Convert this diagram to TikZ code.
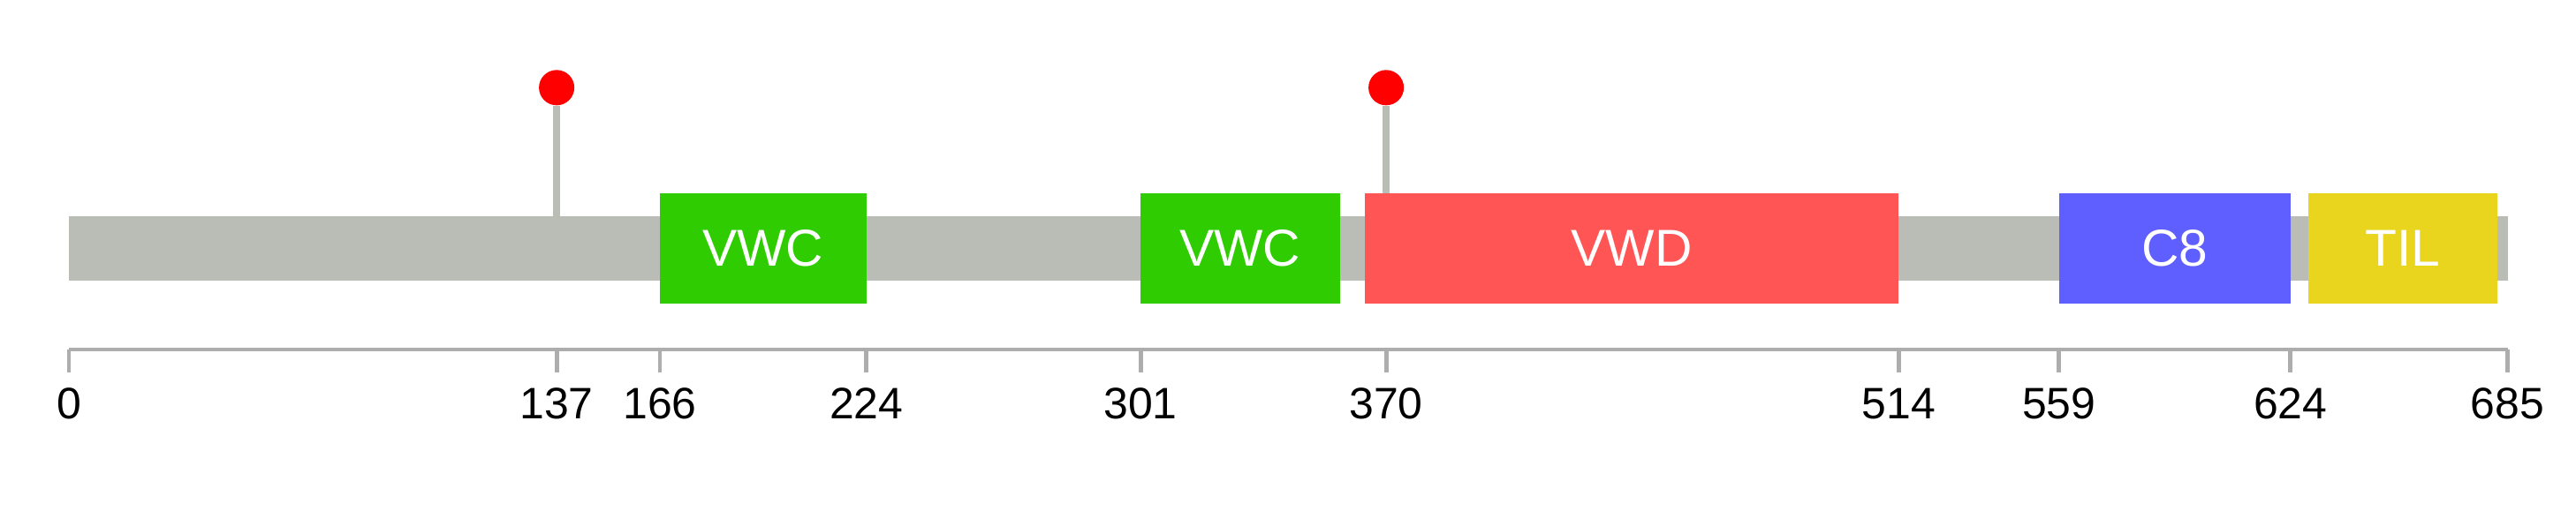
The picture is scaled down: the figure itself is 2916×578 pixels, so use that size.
\documentclass[tikz,border=0pt]{standalone}
\usepackage{fontspec}
\setmainfont{Liberation Sans}
\definecolor{backbone}{HTML}{BABDB6}
\definecolor{axisgray}{HTML}{ADADAD}
\definecolor{vwcgreen}{HTML}{2ECC00}
\definecolor{vwdred}{HTML}{FF5555}
\definecolor{ceightblue}{HTML}{5F5FFF}
\definecolor{tilyellow}{HTML}{E9D51D}
\tikzset{
    domlabel/.style={text=white, inner sep=0pt, font=\fontsize{16.7}{20}\selectfont},
    ticklabel/.style={anchor=base, inner sep=0pt, font=\fontsize{14.2}{17}\selectfont},
    site/.style={circle, fill=red, minimum size=0.4cm, inner sep=0pt},
}
\newcommand{\res}[1]{78+#1*4.03}
\begin{document}
\begin{tikzpicture}[x=0.01cm, y=0.01cm]
    \useasboundingbox (0, 0) rectangle (2916, 578);
    \fill[backbone] ({\res{0}}, 260) rectangle ({\res{685}}, 333);

    \foreach \p/\n in {137/siteA, 370/siteB} {
        \node[site] (\n) at ({\res{\p}}, 478.7) {};
        \draw[backbone, line width=2.3pt] (\n.south) -- ({\res{\p}}, 333);
    }

    \foreach \a/\b/\c/\t/\n in {166/224/vwcgreen/VWC/vwcA, 301/357/vwcgreen/VWC/vwcB, 364/514/vwdred/VWD/vwd, 559/624/ceightblue/C8/ceight, 629/682/tilyellow/TIL/til} {
        \fill[\c] ({\res{\a}}, 234) rectangle ({\res{\b}}, 359);
        \node[domlabel] (\n) at ({\res{(\a+\b)/2}}, 296.5) {\t};
    }

    \draw[axisgray, line width=1.4pt] ({\res{0}}, 182) -- ({\res{685}}, 182);
    \foreach \p in {0, 137, 166, 224, 301, 370, 514, 559, 624, 685} {
        \draw[axisgray, line width=1.4pt] ({\res{\p}}, 182) -- ({\res{\p}}, 156);
        \node[ticklabel] (tick\p) at ({\res{\p}}, 104) {\p};
    }
\end{tikzpicture}
\end{document}
